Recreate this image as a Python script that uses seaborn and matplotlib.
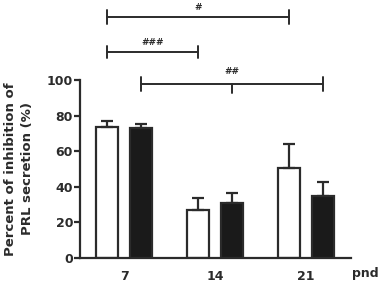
import numpy as np
import pandas as pd
import matplotlib
matplotlib.use("Agg")
import matplotlib.pyplot as plt
import seaborn as sns

# values
ages = ["7", "14", "21"]
groups = ["open", "filled"]
open_mean = [73.5, 26.8, 50.3]
open_sem = [3.5, 6.6, 13.5]
filled_mean = [72.8, 31.0, 34.9]
filled_sem = [2.4, 5.6, 7.7]

df = pd.DataFrame({
    "pnd": ages * 2,
    "group": [groups[0]] * 3 + [groups[1]] * 3,
    "value": open_mean + filled_mean,
    "sem": open_sem + filled_sem,
})

sns.set_style("ticks")
plt.rcParams['font.family'] = ['DejaVu Sans']

fig = plt.figure(figsize=(3.8, 2.84), dpi=100)
ax = fig.add_axes([0.2105, 0.0926, 0.7135, 0.6257])

ink = "#2b2b2b"
lw = 1.6
sns.barplot(data=df, x="pnd", y="value", hue="group", order=ages, hue_order=groups,
            palette={"open": "white", "filled": "#1a1a1a"}, edgecolor=ink, linewidth=lw,
            width=0.75, gap=0.35, errorbar=None, legend=False, ax=ax)

# upward-only error bars (SEM) on each bar
bars = [p for p in ax.patches if p.get_height() > 0]
centers = {}
for bar, (_, row) in zip(bars, df.iterrows()):
    xc = bar.get_x() + bar.get_width() / 2
    centers[(row["group"], row["pnd"])] = xc
    ax.errorbar(xc, row["value"], yerr=[[0], [row["sem"]]], fmt="none",
                ecolor=ink, elinewidth=lw, capsize=4, capthick=lw, zorder=1)

ax.set_xlim(-0.49, 2.5)
ax.set_ylim(0, 100)
ax.set_yticks([0, 20, 40, 60, 80, 100])
ax.set_xlabel("")
ax.set_ylabel("Percent of inhibition of\nPRL secretion (%)", fontsize=9.5,
              fontweight="bold", labelpad=9, color=ink, linespacing=1.4)
ax.tick_params(axis="y", length=4, width=lw, color=ink, labelsize=9, pad=1)
ax.tick_params(axis="x", length=0, labelsize=9, pad=9)
for lab in ax.get_xticklabels() + ax.get_yticklabels():
    lab.set_fontweight("bold")
    lab.set_color(ink)
for s in ["left", "bottom"]:
    ax.spines[s].set_linewidth(lw)
    ax.spines[s].set_color(ink)
sns.despine(ax=ax)

ax.text(1.005, -0.055, "pnd", transform=ax.transAxes, fontsize=9,
        fontweight="bold", color=ink, ha="left", va="top")


# significance brackets above the plot
def bracket(x1, x2, y, label, tick=4, mid=False, gap=2.5):
    kw = dict(color=ink, lw=1.4, clip_on=False)
    ax.plot([x1, x2], [y, y], **kw)
    ax.plot([x1, x1], [y - tick, y + tick], **kw)
    ax.plot([x2, x2], [y - tick, y + tick], **kw)
    if mid:
        ax.plot([(x1 + x2) / 2] * 2, [y, y - 5], **kw)
    ax.text((x1 + x2) / 2, y + gap, label, ha="center", va="bottom",
            fontsize=6.5, fontweight="bold", color=ink, clip_on=False)


bracket(centers[("open", "7")], centers[("open", "21")], 135.5, "#")
bracket(centers[("open", "7")], centers[("open", "14")], 115.8, "###", tick=3.5)
bracket(centers[("filled", "7")], centers[("filled", "21")], 97.7, "##", mid=True, gap=4.5)

fig.savefig("out.png", dpi=100)
